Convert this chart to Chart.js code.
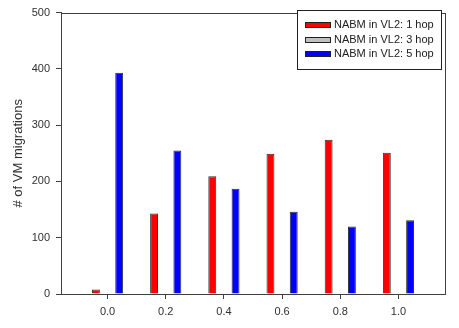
<!DOCTYPE html>
<html>
<head>
<meta charset="utf-8">
<script src="https://cdn.jsdelivr.net/npm/chart.js@4/dist/chart.umd.min.js"></script>
<style>
  html, body { margin: 0; padding: 0; background: #fff; }
  #wrap { width: 459px; height: 328px; }
</style>
</head>
<body>
<div id="wrap"><canvas id="chart"></canvas></div>
<script>
// x positions of each group
const positions = [0.0, 0.2, 0.4, 0.6, 0.8, 1.0];
const hop1 = [8, 143, 209, 249, 274, 251];
const hop3 = [0, 0, 0, 0, 0, 0];
const hop5 = [393, 255, 187, 146, 120, 131];
const seriesLabels = ['NABM in VL2: 1 hop', 'NABM in VL2: 3 hop', 'NABM in VL2: 5 hop'];
const seriesColors = ['#ff0000', '#c0c0c0', '#0000ff'];

const axisColor = '#404040';
const font = 'Liberation Sans, Arial, sans-serif';

function toPoints(vals) {
  return vals.map((v, i) => ({ x: positions[i], y: v }));
}

// box round the plot area
const framePlugin = {
  id: 'frame',
  afterDatasetsDraw(chart) {
    const { ctx, chartArea: a } = chart;
    ctx.save();
    ctx.strokeStyle = axisColor;
    ctx.lineWidth = 1;
    ctx.strokeRect(Math.round(a.left) + 0.5, Math.round(a.top) + 0.5,
      Math.round(a.right - a.left), Math.round(a.bottom - a.top));
    ctx.restore();
  }
};

// boxed legend in the upper right corner
const legendPlugin = {
  id: 'boxLegend',
  afterDraw(chart) {
    const { ctx } = chart;
    const x = 297, y = 10, w = 144, h = 59;
    ctx.save();
    ctx.fillStyle = '#fff';
    ctx.fillRect(x, y, w, h);
    ctx.strokeStyle = '#202020';
    ctx.lineWidth = 1;
    ctx.strokeRect(x + 0.5, y + 0.5, w, h);
    ctx.font = '11px ' + font;
    ctx.textBaseline = 'middle';
    chart.data.datasets.forEach((ds, i) => {
      const cy = y + 15 + i * 14.5;
      ctx.fillStyle = ds.backgroundColor;
      ctx.fillRect(305, Math.round(cy) - 3, 26, 6);
      ctx.strokeStyle = '#202020';
      ctx.strokeRect(305.5, Math.round(cy) - 2.5, 25, 5);
      ctx.fillStyle = '#202020';
      ctx.fillText(ds.label, 334, cy);
    });
    ctx.restore();
  }
};

const ctx = document.getElementById('chart').getContext('2d');
new Chart(ctx, {
  type: 'bar',
  data: {
    datasets: [
      { label: seriesLabels[0], data: toPoints(hop1), backgroundColor: seriesColors[0] },
      { label: seriesLabels[1], data: toPoints(hop3), backgroundColor: seriesColors[1] },
      { label: seriesLabels[2], data: toPoints(hop5), backgroundColor: seriesColors[2] }
    ]
  },
  options: {
    responsive: true,
    maintainAspectRatio: false,
    animation: false,
    layout: { padding: { top: 5, right: 14, left: 0, bottom: 0 } },
    datasets: {
      bar: {
        categoryPercentage: 0.6,
        barPercentage: 0.68,
        borderColor: '#303030',
        borderWidth: 1,
        borderSkipped: 'start'
      }
    },
    plugins: {
      legend: { display: false },
      tooltip: { enabled: false }
    },
    scales: {
      x: {
        type: 'linear',
        min: -0.16,
        max: 1.16,
        offset: false,
        afterFit: s => { s.height = 34; },
        grid: { display: true, offset: false, drawOnChartArea: false, drawTicks: true, tickLength: 5, color: axisColor },
        border: { display: true, color: axisColor },
        ticks: {
          stepSize: 0.2,
          includeBounds: false,
          padding: 6,
          color: '#303030',
          font: { family: font, size: 11 },
          callback: v => Number(v).toFixed(1)
        }
      },
      y: {
        min: 0,
        max: 500,
        afterFit: s => { s.width = 61; },
        grid: { display: true, drawOnChartArea: false, drawTicks: true, tickLength: 5, color: axisColor },
        border: { display: true, color: axisColor },
        ticks: {
          stepSize: 100,
          padding: 6,
          color: '#303030',
          font: { family: font, size: 11 }
        },
        title: {
          display: true,
          text: '# of VM migrations',
          color: '#303030',
          font: { family: font, size: 13 },
          padding: { top: 11, bottom: 0 }
        }
      }
    }
  },
  plugins: [framePlugin, legendPlugin]
});
</script>
</body>
</html>
